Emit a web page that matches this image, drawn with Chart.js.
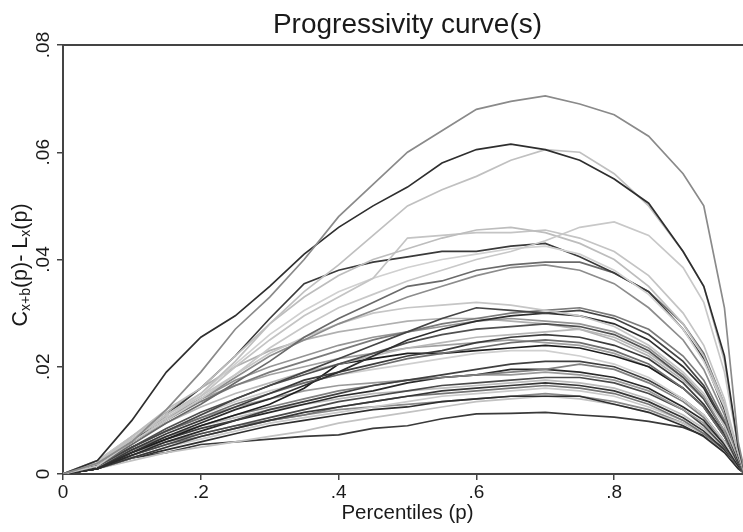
<!DOCTYPE html>
<html>
<head>
<meta charset="utf-8">
<script src="https://cdn.jsdelivr.net/npm/chart.js@4.4.1/dist/chart.umd.min.js"></script>
<style>
  html, body { margin: 0; padding: 0; background: #fff; overflow: hidden; }
  #wrap { width: 743px; height: 532px; overflow: hidden; }
  canvas { display: block; }
</style>
</head>
<body>
<div id="wrap"><canvas id="chart" width="760" height="532"></canvas></div>
<script>
// Percentile grid shared by every curve.
const P = [0, .05, .1, .15, .2, .25, .3, .35, .4, .45, .5, .55, .6, .65, .7, .75, .8, .85, .9, .93, .96, .98, .99];

// Curve values in thousandths, one array per curve.
const A   = [0, 2, 6, 12, 19, 27, 33, 40, 48, 54, 60, 64, 68, 69.5, 70.5, 69, 67, 63, 56, 50, 31, 6, 0];
const B   = [0, 2.5, 10, 19, 25.5, 29.5, 35, 41, 46, 50, 53.5, 58, 60.5, 61.5, 60.5, 58.5, 55, 50.5, 41.5, 35, 22, 5, 0];
const C   = [0, 2, 6.5, 11, 15, 21, 28, 34, 39, 44.5, 50, 53, 55.5, 58.5, 60.5, 60, 56, 50, 41.5, 35, 21, 5, 0];
const D   = [0, 1.5, 6, 10, 14, 18.5, 23.5, 27.5, 31, 33.5, 36, 38, 40, 41.5, 43.5, 46, 47, 44.5, 38.5, 32, 19, 5, 0];
const E1  = [0, 2, 7, 12, 16, 22, 28, 33, 37, 40, 42, 44, 45.5, 46, 45, 43, 40, 35, 28, 22, 13, 4, 0];
const E2  = [0, 2, 6.5, 10.5, 14.5, 20, 25, 29.5, 33, 36.5, 44, 44.5, 45, 45, 45.5, 44, 41.5, 37, 30, 24, 14, 4, 0];
const E3  = [0, 2, 6.5, 11, 15, 20.5, 26, 30.5, 34, 36.5, 38.5, 40, 41, 42, 42.5, 41, 38, 33.5, 27, 21, 12.5, 4, 0];
const F   = [0, 1.5, 6, 11, 16, 22, 29, 35.5, 38, 39.5, 40.5, 41.5, 41.5, 42.5, 43, 40.5, 37.5, 34, 27, 21.5, 12, 3.5, 0];
const G   = [0, 1.5, 5.5, 9.5, 13, 17, 21, 25.5, 29, 32, 35, 36, 38, 39, 39.5, 39.5, 37.5, 34, 28, 22.5, 13, 4, 0];
const H   = [0, 2, 6, 10, 14, 18, 22, 25, 28, 30.5, 33, 35, 37, 38.5, 39, 38, 35.5, 31, 25, 19.5, 11, 3, 0];
const I1  = [0, 2.5, 7, 11, 14.5, 18.5, 22.5, 25.5, 28, 30, 31, 31.5, 32, 31.5, 30.5, 29.5, 27.5, 24, 19, 15, 9, 3, 0];
const I2  = [0, 1.5, 5, 8, 11, 14, 16.5, 19, 21.5, 24, 26.5, 29, 31, 30.5, 30, 30.5, 29, 26, 21, 16.5, 9.5, 3, 0];
const I3  = [0, 2, 6, 10, 13.5, 16.5, 19, 21, 23, 25, 26.5, 28, 29, 30, 30.5, 31, 29.5, 27, 22, 17.5, 10, 3, 0];
const I4  = [0, 1, 4, 7, 9.5, 12, 14, 16.5, 19, 22, 25, 27, 28.5, 29.5, 30, 29.5, 28, 25, 20, 16, 9, 2.5, 0];
const I5  = [0, 2, 6.5, 10.5, 14, 17.5, 20, 22, 24, 25.5, 26.5, 27.5, 28.5, 29, 28.5, 28, 26.5, 23.5, 18.5, 14.5, 8, 2.5, 0];
const I6  = [0, 1.5, 5, 8.5, 11.5, 14, 16.5, 18.5, 20.5, 22.5, 24.5, 26, 27, 27.5, 28, 27.5, 26, 23, 18, 14, 8, 2.5, 0];
const I7  = [0, 2, 6, 9.5, 12.5, 15, 17, 19, 20.5, 22, 23.5, 24.5, 25.5, 26, 26.5, 27, 25.5, 22.5, 18, 14, 8, 2.5, 0];
const I8  = [0, 1, 4.5, 7.5, 10, 12.5, 15, 17.5, 19, 20.5, 22, 23, 24.5, 25.5, 26, 25.5, 24, 21.5, 17, 13, 7.5, 2, 0];
const I9  = [0, 1.5, 5, 8, 10.5, 13, 15, 17, 18.5, 20, 21.5, 22.5, 23.5, 24.5, 25, 24.5, 23, 20.5, 16, 12.5, 7, 2, 0];
const I10 = [0, 1, 4, 6.5, 9, 11, 13, 16, 20.5, 21.5, 22.5, 22.5, 23, 23.5, 24, 23.5, 22, 20, 16, 12.5, 7, 2, 0];
const J1  = [0, 1.5, 5, 8, 11, 13.5, 15.5, 17, 18.5, 19.5, 20.5, 21.5, 22.5, 23, 23, 22, 20.5, 18, 14, 11, 6, 2, 0];
const J2  = [0, 1, 4, 6.5, 8.5, 10, 12, 13.5, 15, 16.5, 17.5, 18.5, 19.5, 20.5, 21, 21, 20, 17.5, 14, 11, 6, 2, 0];
const J3  = [0, 1.5, 4.5, 7, 9, 11, 12.5, 14, 15.5, 16.5, 17.5, 18, 18.5, 19, 19.5, 20.5, 19.5, 17, 13.5, 10.5, 6, 2, 0];
const J4  = [0, 1, 3.5, 6, 8, 10, 11.5, 13, 14.5, 15.5, 17, 18, 18.5, 19.5, 19.5, 19, 18, 16, 12.5, 10, 5.5, 1.5, 0];
const J5  = [0, 1.5, 5, 8, 10.5, 12.5, 14, 15.5, 16.5, 17, 17.5, 18, 18.5, 18.5, 19, 18.5, 17.5, 15.5, 12, 9.5, 5.5, 1.5, 0];
const J6  = [0, 1, 3.5, 5.5, 7.5, 9, 10.5, 12, 13.5, 14.5, 15.5, 16.5, 17, 17.5, 18, 18, 17, 15, 12, 9, 5, 1.5, 0];
const J7  = [0, 1.5, 4.5, 7, 9, 10.5, 12, 13, 14, 15, 15.5, 16, 16.5, 17, 17.5, 17, 16, 14, 11, 8.5, 5, 1.5, 0];
const J8  = [0, 1, 3, 5, 7, 8.5, 10, 11.5, 12.5, 13.5, 14.5, 15.5, 16, 16.5, 17, 16.5, 15.5, 13.5, 10.5, 8, 4.5, 1.5, 0];
const J9  = [0, 1, 3.5, 5.5, 7, 8.5, 10, 11, 12.5, 13.5, 14.5, 15, 15.5, 16, 16.5, 16, 15, 13, 10, 7.5, 4.5, 1.5, 0];
const J10 = [0, 1, 3, 5, 6.5, 8, 9.5, 10.5, 11.5, 12.5, 13.5, 14.5, 15, 15.5, 16, 15.5, 14.5, 12.5, 10, 7.5, 4.5, 1.5, 0];
const K1  = [0, 1, 3, 4.5, 6, 7.5, 9, 10, 11, 12, 12.5, 13.5, 14, 14.5, 14.5, 14.5, 13, 11.5, 9, 7, 4, 1, 0];
const K2  = [0, 1, 2.5, 4, 5, 6, 7, 8, 9.5, 10.5, 11.5, 12.5, 13.5, 14, 14.5, 14, 13, 11.5, 9.5, 7.5, 4.5, 1.5, 0];
const K3  = [0, 1.5, 4, 6, 7.5, 9, 10, 11, 12, 12.5, 13, 13.5, 14, 14.5, 15, 14.5, 13.5, 12, 9.5, 7.5, 4, 1, 0];
const L   = [0, 1, 3, 4, 5.5, 6, 6.5, 7, 7.3, 8.5, 9, 10.3, 11.2, 11.3, 11.5, 11, 10.6, 9.8, 8.7, 7.2, 4.8, 1.8, 0];
const M1  = [0, 2.5, 7, 11.5, 16, 20, 23, 25, 26.5, 27.5, 28.5, 29, 29, 28.5, 28, 27, 25, 22, 17.5, 14, 8, 2.5, 0];
const M2  = [0, 2, 6.5, 10.5, 14, 16.5, 18.5, 20, 21.5, 22.5, 23.5, 24, 24.5, 25, 24.5, 24, 22.5, 20, 16, 12.5, 7, 2, 0];

const CURVES = [A, B, C, D, E1, E2, E3, F, G, H, I1, I2, I3, I4, I5, I6, I7, I8, I9, I10,
                J1, J2, J3, J4, J5, J6, J7, J8, J9, J10, K1, K2, K3, L, M1, M2];
const GREYS = ['#8a8a8a', '#2e2e2e', '#c0c0c0', '#c8c8c8', '#bdbdbd', '#c4c4c4', '#d0d0d0', '#3a3a3a', '#6a6a6a', '#8c8c8c',
               '#c6c6c6', '#454545', '#7a7a7a', '#2e2e2e', '#959595', '#505050', '#b8b8b8', '#3c3c3c', '#6e6e6e', '#1e1e1e',
               '#cfcfcf', '#404040', '#808080', '#2a2a2a', '#9a9a9a', '#4a4a4a', '#bcbcbc', '#363636', '#767676', '#cacaca',
               '#2f2f2f', '#c2c2c2', '#8a8a8a', '#3a3a3a', '#b0b0b0', '#a0a0a0'];

const Y_TICKS = [0, .02, .04, .06, .08];
const X_TICKS = [0, .2, .4, .6, .8];
const TITLE = 'Progressivity curve(s)';
const X_TITLE = 'Percentiles (p)';
// y title pieces: [text, isSubscript]
const Y_TITLE = [['C', false], ['x+b', true], ['(p)- L', false], ['x', true], ['(p)', false]];

const FONT = '"Liberation Sans", Arial, sans-serif';
const INK = '#1a1a1a';
const AXIS = '#444';

const fmt = (v, d) => v === 0 ? '0' : v.toFixed(d).replace(/^0/, '');

// Rotated y tick labels, y title with subscripts, and the top frame line.
const stataBits = {
    id: 'stataBits',
    afterDraw(chart) {
        const { ctx, chartArea } = chart;
        const ys = chart.scales.y;
        ctx.save();

        ctx.strokeStyle = AXIS;
        ctx.lineWidth = 2;
        ctx.beginPath();
        ctx.moveTo(chartArea.left - 1, chartArea.top);
        ctx.lineTo(chartArea.right + 20, chartArea.top);
        ctx.stroke();

        ctx.fillStyle = INK;
        ctx.font = `19px ${FONT}`;
        ctx.textAlign = 'center';
        ctx.textBaseline = 'middle';
        ys.ticks.forEach(t => {
            ctx.save();
            ctx.translate(44, ys.getPixelForValue(t.value));
            ctx.rotate(-Math.PI / 2);
            ctx.fillText(t.label, 0, 0);
            ctx.restore();
        });

        const big = `21.5px ${FONT}`, small = `14px ${FONT}`;
        const widths = Y_TITLE.map(([s, sub]) => { ctx.font = sub ? small : big; return ctx.measureText(s).width; });
        const total = widths.reduce((a, b) => a + b, 0);
        ctx.translate(20, 265);
        ctx.rotate(-Math.PI / 2);
        ctx.textAlign = 'left';
        ctx.textBaseline = 'alphabetic';
        let x = -total / 2;
        Y_TITLE.forEach(([s, sub], i) => {
            ctx.font = sub ? small : big;
            ctx.fillText(s, x, sub ? 10 : 7);
            x += widths[i];
        });
        ctx.restore();
    },
};

const datasets = CURVES.map((vals, i) => ({
    data: P.map((p, k) => ({ x: p, y: vals[k] / 1000 })),
    borderColor: GREYS[i],
    borderWidth: 1.7,
    pointRadius: 0,
    fill: false,
    tension: 0,
}));

new Chart(document.getElementById('chart'), {
    type: 'line',
    data: { datasets },
    options: {
        responsive: false,
        animation: false,
        layout: { padding: { left: 0, right: 8, top: 0, bottom: 0 } },
        scales: {
            x: {
                type: 'linear',
                min: 0, max: 1,
                afterBuildTicks: s => { s.ticks = X_TICKS.map(v => ({ value: v })); },
                afterFit: s => { s.height = 58; },
                ticks: { callback: v => fmt(v, 1), color: INK, font: { family: FONT, size: 19 }, padding: 1, maxRotation: 0, autoSkip: false },
                grid: { drawOnChartArea: false, drawTicks: true, tickLength: 6, color: AXIS, lineWidth: 1.5 },
                border: { display: true, color: AXIS, width: 2 },
                title: { display: true, text: X_TITLE, color: INK, font: { family: FONT, size: 20.5 }, padding: { top: 0, bottom: 6 } },
            },
            y: {
                min: 0, max: .08,
                afterBuildTicks: s => { s.ticks = Y_TICKS.map(v => ({ value: v })); },
                afterFit: s => { s.width = 63; },
                ticks: { display: false, callback: v => fmt(v, 2) },
                grid: { drawOnChartArea: false, drawTicks: true, tickLength: 6, color: AXIS, lineWidth: 1.5 },
                border: { display: true, color: AXIS, width: 2 },
            },
        },
        plugins: {
            legend: { display: false },
            tooltip: { enabled: false },
            title: {
                display: true, fullSize: false, text: TITLE, color: INK,
                font: { family: FONT, size: 28, weight: 'normal' },
                padding: { top: 8.5, bottom: 2.9 },
            },
        },
    },
    plugins: [stataBits],
});
</script>
</body>
</html>
